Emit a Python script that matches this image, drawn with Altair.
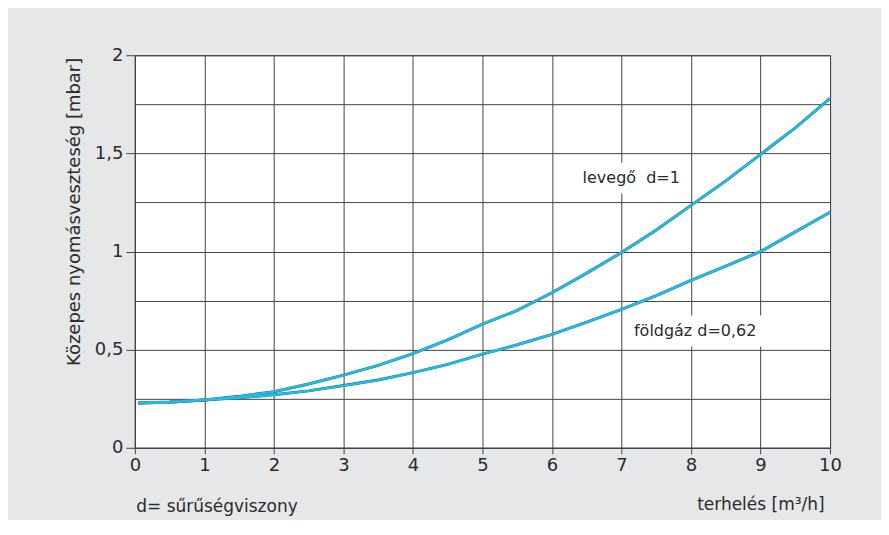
import altair as alt
import pandas as pd

# --- data ---
x_vals = [0.05, 0.5, 1, 1.5, 2, 2.5, 3, 3.5, 4, 4.5, 5, 5.5, 6, 6.5, 7, 7.5, 8, 8.5, 9, 9.5, 10]
levego = [0.228, 0.232, 0.244, 0.262, 0.286, 0.325, 0.37, 0.42, 0.48, 0.55, 0.63, 0.70,
          0.79, 0.89, 0.995, 1.11, 1.235, 1.36, 1.495, 1.63, 1.78]
foldgaz = [0.228, 0.233, 0.244, 0.255, 0.27, 0.29, 0.317, 0.345, 0.383, 0.425, 0.477, 0.525,
           0.578, 0.64, 0.705, 0.775, 0.853, 0.925, 1.0, 1.1, 1.2]

series_names = ["levegő d=1", "földgáz d=0,62"]
label_texts = ["levegő\u00a0 d=1", "földgáz d=0,62"]
label_x = [7.14, 8.06]
label_y = [1.374, 0.595]
label_w = [110, 140]

note_text = ["d= sűrűségviszony"]
note_x = [0.02]
note_y = [-0.3]

y_grid = [0, 0.25, 0.5, 0.75, 1, 1.25, 1.5, 1.75, 2]
x_ticks = list(range(0, 11))

FONT = "DejaVu Sans"
TXT = "#2b2b2b"
GRID = "#444444"

rows = []
for name, ys in zip(series_names, [levego, foldgaz]):
    for xv, yv in zip(x_vals, ys):
        rows.append({"x": xv, "y": yv, "series": name})
df = pd.DataFrame(rows)

lab_df = pd.DataFrame({"x": label_x, "y": label_y, "text": label_texts, "w": label_w})
note_df = pd.DataFrame({"x": note_x, "y": note_y, "text": note_text})

xscale = alt.Scale(domain=[0, 10], nice=False, zero=False)
yscale = alt.Scale(domain=[0, 2], nice=False)

xaxis = alt.Axis(
    values=x_ticks, format="d", grid=True, gridColor=GRID, gridWidth=1, domainColor=GRID,
    tickColor=GRID, tickSize=6, labelPadding=3, labelFontSize=18, labelFont=FONT,
    labelColor=TXT, labelFlush=False,
    title="terhelés [m³/h]", titleFont=FONT, titleFontSize=17, titleFontWeight="normal",
    titleColor=TXT, titleAnchor="end", titleAlign="right", titleBaseline="middle",
    titleX=690, titleY=57,
)
yaxis = alt.Axis(
    values=y_grid, grid=True, gridColor=GRID, gridWidth=1, domainColor=GRID,
    tickColor=GRID, tickSize=9,
    tickOpacity={"condition": {"test": "datum.value % 0.5 != 0", "value": 0}, "value": 1},
    format=".2~f",
    labelExpr="datum.value % 0.5 == 0 ? replace(datum.label, '.', ',') : ''",
    labelPadding=3, labelFontSize=18, labelFont=FONT, labelColor=TXT,
    title="Közepes nyomásveszteség [mbar]", titleFont=FONT, titleFontSize=18,
    titleFontWeight="normal", titleColor=TXT, titleAngle=270,
    titleAlign="right", titleBaseline="middle", titleX=-60, titleY=2,
)

base = alt.Chart(df)

outline = base.mark_line(color="#2f6a80", strokeWidth=3.0).encode(
    x=alt.X("x:Q", scale=xscale, axis=xaxis),
    y=alt.Y("y:Q", scale=yscale, axis=yaxis),
    detail="series:N",
)
inner = base.mark_line(color="#1fbce6", strokeWidth=2.4).encode(
    x=alt.X("x:Q", scale=xscale),
    y=alt.Y("y:Q", scale=yscale),
    detail="series:N",
)

box_layers = []
for i in range(len(label_texts)):
    sub = lab_df.iloc[[i]]
    box_layers.append(
        alt.Chart(sub).mark_rect(fill="white", width=label_w[i], height=31).encode(
            x=alt.X("x:Q", scale=xscale),
            y=alt.Y("y:Q", scale=yscale),
        )
    )

labels = alt.Chart(lab_df).mark_text(
    font=FONT, fontSize=16, color=TXT, align="center", baseline="middle"
).encode(
    x=alt.X("x:Q", scale=xscale),
    y=alt.Y("y:Q", scale=yscale),
    text="text:N",
)

note = alt.Chart(note_df).mark_text(
    font=FONT, fontSize=17, color=TXT, align="left", baseline="middle"
).encode(
    x=alt.X("x:Q", scale=xscale),
    y=alt.Y("y:Q", scale=yscale),
    text="text:N",
)

chart = alt.layer(outline, inner, *box_layers, labels, note).properties(
    width=696, height=393,
    autosize=alt.AutoSizeParams(type="none"),
    padding={"left": 127, "top": 47, "right": 51, "bottom": 72},
    background="#e6e7e8",
).configure_view(
    fill="white", stroke=GRID, strokeWidth=1
)

chart.save("out.html", embed_options={"renderer": "svg", "actions": False})
